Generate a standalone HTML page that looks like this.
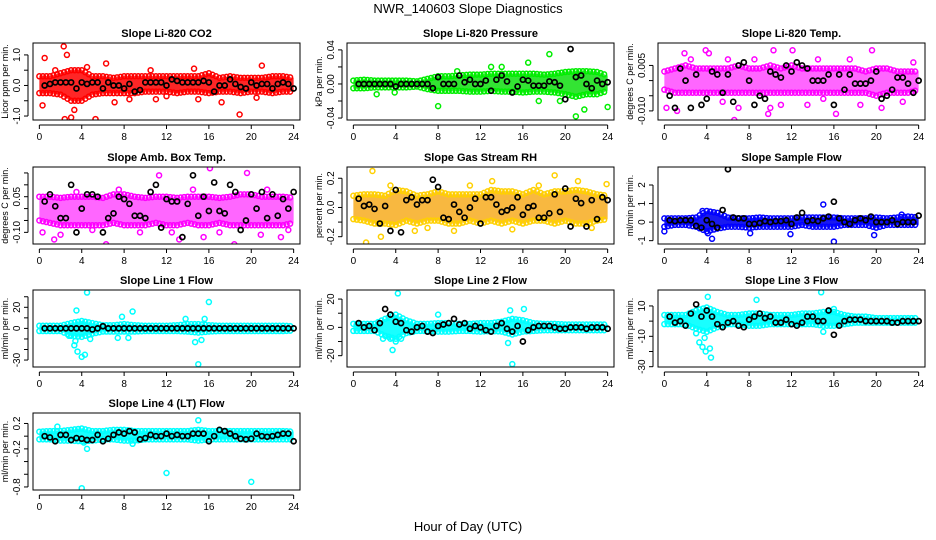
<!DOCTYPE html>
<html><head><meta charset="utf-8"><style>
body{margin:0;background:#fff;}
svg{display:block;font-family:"Liberation Sans",sans-serif;}
</style></head><body>
<svg id="chart" width="936" height="540" viewBox="0 0 936 540" xmlns="http://www.w3.org/2000/svg">
<rect x="0" y="0" width="936" height="540" fill="#fff"/>
<text x="468" y="13" text-anchor="middle" font-size="13">NWR_140603  Slope Diagnostics</text>
<text x="468" y="531" text-anchor="middle" font-size="13">Hour of Day (UTC)</text>
<g id="panels"></g>
</svg>
<script>
const bandHours = [0,1,2,3,4,5,6,7,8,9,10,11,12,13,14,15,16,17,18,19,20,21,22,23,24];
const blackHours = [0.5,1,1.5,2,2.5,3,3.5,4,4.5,5,5.5,6,6.5,7,7.5,8,8.5,9,9.5,10,10.5,11,11.5,12,12.5,13,13.5,14,14.5,15,15.5,16,16.5,17,17.5,18,18.5,19,19.5,20,20.5,21,21.5,22,22.5,23,23.5,24];
const xTicks = [0,4,8,12,16,20,24];

// CO2
const co2Hi = [0.3,0.3,0.4,0.5,0.5,0.3,0.3,0.25,0.3,0.3,0.3,0.3,0.3,0.3,0.3,0.3,0.4,0.25,0.3,0.25,0.25,0.25,0.3,0.3,0.25];
const co2Lo = [-0.25,-0.25,-0.3,-0.5,-0.5,-0.3,-0.25,-0.25,-0.25,-0.25,-0.2,-0.2,-0.2,-0.25,-0.2,-0.2,-0.25,-0.2,-0.2,-0.25,-0.2,-0.2,-0.25,-0.2,-0.2];
const co2OutX = [0.3,0.5,2.3,2.4,2.6,3.0,3.3,5.3,6.3,7.1,14.6,17.2,18.9,21.0,8.5,11,12,4.5,1.5,10.5,15,20.5];
const co2OutY = [-0.65,0.9,1.28,-1.1,1.0,-1.05,-0.8,-1.1,0.72,-0.55,0.55,-0.55,-0.95,0.65,-0.45,-0.45,-0.35,0.6,0.5,0.5,-0.45,-0.4];
const co2Black = [0.0,0.05,0.1,0.1,0.1,0.1,-0.1,0.1,0.05,0.1,0.1,-0.1,0.1,0.0,0.0,-0.1,0.05,-0.2,-0.15,0.1,0.1,0.1,0.1,0.0,0.2,0.15,0.1,0.1,0.1,0.1,0.15,0.1,-0.2,0.0,0.0,0.2,0.05,-0.05,-0.1,0.1,0.0,0.05,0.05,-0.1,0.05,0.1,0.05,-0.1];
// Pressure
const prHi = [0.004,0.005,0.004,0.004,0.004,0.004,0.003,0.006,0.009,0.009,0.01,0.011,0.011,0.012,0.012,0.012,0.012,0.012,0.011,0.012,0.014,0.015,0.015,0.014,0.01];
const prLo = [-0.005,-0.005,-0.004,-0.004,-0.004,-0.004,-0.003,-0.006,-0.008,-0.008,-0.008,-0.009,-0.009,-0.008,-0.009,-0.009,-0.01,-0.009,-0.009,-0.01,-0.012,-0.015,-0.012,-0.012,-0.008];
const prOutX = [2.2,8,18.5,19.5,21,24,16.5,13,9.8,21.8,3.9,14,17.5];
const prOutY = [-0.012,-0.026,0.035,-0.02,-0.038,-0.027,0.025,0.02,0.015,-0.03,-0.01,0.02,-0.02];
const prBlack = [0,0,0,0,0,0,0,-0.003,0,0,0,0,0,0,-0.005,0.008,0,0,0,0.01,0.002,0.005,0,0,0.004,-0.008,0.005,0.01,0.003,-0.01,-0.003,0.005,0.004,-0.002,-0.002,-0.002,0.003,0.002,-0.002,-0.018,0.041,0.008,0.01,0,-0.005,0.004,0,0.002];
// Li-820 Temp
const ltHi = [0.003,0.004,0.005,0.004,0.004,0.004,0.004,0.005,0.004,0.004,0.005,0.004,0.005,0.004,0.004,0.004,0.004,0.004,0.004,0.003,0.004,0.004,0.003,0.003,0.003];
const ltLo = [-0.003,-0.004,-0.004,-0.004,-0.004,-0.004,-0.004,-0.004,-0.004,-0.004,-0.004,-0.004,-0.004,-0.004,-0.004,-0.004,-0.004,-0.004,-0.004,-0.004,-0.005,-0.004,-0.004,-0.004,-0.003];
const ltOutX = [0.2,3.9,1.9,6.6,9.8,7.0,10.3,16.2,19.6,20.5,12.1,4.2,1.2,10.0,2.5,5.5,8.5,13.5,14.5,17.5,22.5,11,18.5,23.5,6,15];
const ltOutY = [-0.009,0.01,0.009,-0.013,-0.011,-0.009,0.01,-0.011,0.01,-0.009,0.01,0.009,-0.01,-0.009,0.007,-0.007,0.007,-0.008,0.007,0.007,-0.007,-0.008,-0.008,0.006,0.007,-0.006];
const ltBlack = [-0.005,-0.009,0.004,0.0,-0.009,0.002,-0.008,-0.006,0.003,0.002,-0.004,0.002,-0.007,0.005,0.006,0.0,-0.008,-0.005,-0.006,0.003,0.002,0.001,0.005,0.003,0.006,0.005,0.004,0.0,0.0,0.0,0.002,-0.008,0.002,-0.003,0.002,-0.001,-0.001,-0.001,0.0,0.003,-0.006,-0.005,-0.003,0.001,0.001,-0.001,-0.004,0.0];
// Amb box temp
const abHi = [0.05,0.05,0.045,0.05,0.05,0.05,0.045,0.06,0.06,0.05,0.045,0.05,0.05,0.045,0.05,0.05,0.05,0.045,0.05,0.06,0.06,0.05,0.05,0.05,0.045];
const abLo = [-0.05,-0.06,-0.07,-0.07,-0.07,-0.07,-0.07,-0.06,-0.07,-0.07,-0.07,-0.06,-0.07,-0.07,-0.06,-0.07,-0.07,-0.06,-0.07,-0.07,-0.07,-0.07,-0.07,-0.07,-0.06];
const abOutX = [0.3,1.4,6.3,11.3,13.2,16.1,18.4,19.6,20.9,15.5,22.8,2.0,3.5,5,7.5,9.5,10.5,12.5,14.5,17,21.5,23.5];
const abOutY = [-0.1,-0.13,-0.15,0.14,-0.13,0.17,-0.15,0.15,-0.11,-0.12,-0.12,-0.11,0.07,-0.09,0.08,-0.1,0.07,-0.1,0.08,-0.1,0.08,-0.09];
const abBlack = [0.03,0.06,0.01,-0.04,-0.04,0.1,-0.1,0.0,0.06,0.06,0.05,-0.1,-0.04,-0.02,0.05,0.04,0.02,-0.03,-0.03,-0.04,0.07,0.1,-0.08,0.04,0.03,0.03,-0.12,0.02,0.14,-0.03,0.05,-0.01,0.11,-0.01,-0.02,0.1,0.07,-0.09,-0.05,0.06,0.0,0.07,-0.04,0.06,-0.03,0.04,0.0,0.07];
// Gas RH
const rhHi = [0.08,0.09,0.09,0.08,0.12,0.11,0.08,0.09,0.11,0.09,0.09,0.09,0.09,0.12,0.11,0.11,0.09,0.12,0.09,0.11,0.11,0.12,0.11,0.09,0.08];
const rhLo = [-0.08,-0.09,-0.11,-0.11,-0.12,-0.09,-0.11,-0.09,-0.09,-0.11,-0.11,-0.09,-0.11,-0.09,-0.11,-0.09,-0.11,-0.09,-0.09,-0.11,-0.09,-0.11,-0.11,-0.09,-0.08];
const rhOutX = [1.8,1.2,2.6,5.8,13.1,19.0,21.2,23.9,9.5,3.5,7,11,15,17.5,22.5];
const rhOutY = [0.25,-0.24,-0.2,-0.16,0.18,0.22,0.18,0.16,-0.16,0.15,-0.14,0.15,-0.15,0.15,-0.14];
const rhBlack = [0.06,0.01,0.02,-0.01,-0.11,0.01,-0.16,0.12,-0.17,0.05,0.07,0.02,0.05,0.05,0.19,0.14,-0.07,-0.08,0.02,-0.03,-0.07,0.0,0.06,-0.11,0.07,0.07,0.02,-0.03,-0.02,0.0,0.07,-0.05,0.0,0.01,-0.07,-0.07,-0.04,0.09,-0.03,0.13,-0.13,0.06,0.03,-0.13,0.05,-0.08,0.07,0.05];
// Sample flow
const sfHi = [0.2,0.2,0.2,0.25,0.6,0.5,0.25,0.2,0.2,0.25,0.2,0.2,0.2,0.25,0.25,0.25,0.25,0.2,0.2,0.2,0.25,0.2,0.25,0.3,0.25];
const sfLo = [-0.25,-0.15,-0.15,-0.25,-0.5,-0.35,-0.25,-0.25,-0.3,-0.25,-0.25,-0.25,-0.25,-0.15,-0.25,-0.25,-0.25,-0.15,-0.15,-0.15,-0.3,-0.15,-0.15,-0.15,-0.15];
const sfOutX = [0,4.5,4.1,8.1,11.9,15.0,16,19.8,22.4,3.6];
const sfOutY = [-0.5,-0.9,-0.6,-0.6,-0.65,0.95,-1.05,-0.7,0.4,0.6];
const sfBlack = [0.1,0.05,0.1,0.1,0.1,-0.2,-0.3,0.1,-0.1,-0.3,0.65,2.85,0.25,0.2,0.2,-0.1,-0.1,-0.05,0.05,0.0,0.05,0.05,0.1,-0.1,0.25,0.5,0.05,0.1,0.05,0.2,0.3,1.1,0.2,0.0,-0.1,0.1,0.2,0.1,0.3,0.0,0.0,0.0,0.1,-0.1,0.0,0.0,0.0,0.35];
// Line 1 flow
const l1Hi = [2.5,2.5,2.5,5,7,5,3,3,4,3,2.5,2.5,2.5,3,4,4,3,2.5,2.5,2.5,2.5,2.5,2.5,2.5,2];
const l1Lo = [-2.5,-2.5,-2.5,-7,-8,-5,-3,-3,-3,-3,-2.5,-2.5,-2.5,-2.5,-3,-4,-3,-2.5,-2.5,-2.5,-2.5,-2.5,-2.5,-2.5,-2];
const l1OutX = [3.5,3.3,3.6,4.3,4.5,4.8,2.8,7.4,7.8,8.4,8.8,13.8,14.7,15.3,15.6,16.0,15.0,3.4,4.0];
const l1OutY = [17,-16,-22,-25,34,-10,-7,-9,11,-9,16,9,-13,-11,9,25,-34,-12,-27];
const l1Black = [0,0,0,0,0,0,0,0,0,-1,0,2,0,0,0,0,0,0,0,0,0,0,0,0,0,0,0,0,0,0,0,0,0,0,0,0,0,0,0,0,0,0,0,0,0,0,0,0];
// Line 2 flow
const l2Hi = [2.5,2.5,2.5,6,9,5,2.5,2.5,3,3,2.5,2.5,3,3,4,6,5,3,2.5,2.5,2,2,2,2,2];
const l2Lo = [-2.5,-2.5,-2.5,-6,-8,-4,-2.5,-2.5,-3,-3,-2.5,-2.5,-3,-2.5,-3,-5,-3,-2.5,-2,-2,-2,-2,-2,-2,-2];
const l2OutX = [3.5,3.7,4.2,4.5,2.8,4.0,14.8,15.0,16.1,14.6,8.0];
const l2OutY = [-8,-16,24,-8,-8,-10,12,-26,13,-11,9];
const l2Black = [3,0,1,-2,3,13,9,4,3,-2,-3,0,1,-3,-4,1,2,3,6,2,3,-1,1,0,-2,-3,1,3,-1,-3,1,-10,-2,0,1,1,1,0,-1,-1,0,0,0,-1,0,0,0,-1];
// Line 3 flow
const l3Hi = [4,4,4,7,9,6,4,4,5,5,4,4,4,5,5,6,6,4,3,3,2,2,2,2,2];
const l3Lo = [-2,-2,-2,-5,-7,-4,-2,-2,-3,-3,-2,-2,-2,-2,-2,-3,-3,-2,-1,-1,-1,-1,-1,-1,-1];
const l3OutX = [3.0,3.3,3.6,3.9,4.3,4.4,4.1,8.7,14.8,15.0,16.0,3.8];
const l3OutY = [-8,-14,-17,-20,-18,-24,16,14,19,-7,8,-11];
const l3Black = [3,-1,0,-3,5,11,3,7,3,-2,-4,-1,0,-3,-4,1,3,5,2,3,-1,-1,1,-2,-3,-1,3,3,0,0,7,-9,-3,0,1,1,1,0,0,0,0,0,-1,-1,0,0,0,0];
// Line 4 (LT) flow
const l4Hi = [0.07,0.08,0.08,0.1,0.12,0.08,0.08,0.1,0.1,0.08,0.08,0.08,0.08,0.08,0.08,0.1,0.08,0.08,0.08,0.08,0.08,0.08,0.08,0.08,0.07];
const l4Lo = [-0.05,-0.05,-0.07,-0.07,-0.08,-0.07,-0.05,-0.05,-0.07,-0.07,-0.05,-0.05,-0.05,-0.05,-0.05,-0.07,-0.05,-0.05,-0.05,-0.05,-0.05,-0.05,-0.05,-0.05,-0.05];
const l4OutX = [4.0,12.0,20.0,15.0,4.5,8.8,1.7,4.2];
const l4OutY = [-0.82,-0.58,-0.72,0.25,-0.2,-0.12,0.15,-0.1];
const l4Black = [0.0,-0.02,-0.08,0.02,0.02,-0.06,-0.03,-0.04,-0.06,-0.06,0.02,-0.08,-0.04,0.02,0.06,0.04,0.08,0.06,-0.05,-0.03,0.02,0.0,0.0,0.04,0.0,0.02,0.0,0.0,0.04,0.04,0.04,-0.08,0.0,0.1,0.08,0.04,0.0,-0.04,-0.05,-0.04,0.04,0.0,-0.01,0.0,0.02,0.04,0.04,-0.08];

const panels = [
 {name:'co2',title:'Slope Li-820 CO2',ylab:'Licor ppm per min.',col:'#ff0000',fill:'#ff0000',op:0.85,x0:33,y0:43,ymin:-1.13,ymax:1.39,ticks:[-1,-0.5,0,0.5,1],labs:['-1.0','','0.0','','1.0'],hi:co2Hi,lo:co2Lo,ox:co2OutX,oy:co2OutY,bk:co2Black},
 {name:'pressure',title:'Slope Li-820 Pressure',ylab:'kPa per min.',col:'#00ee00',fill:'#00dd00',op:0.8,x0:347,y0:43,ymin:-0.0423,ymax:0.0481,ticks:[-0.04,-0.02,0,0.02,0.04],labs:['-0.04','','0.00','','0.04'],hi:prHi,lo:prLo,ox:prOutX,oy:prOutY,bk:prBlack},
 {name:'li820-temp',title:'Slope Li-820 Temp.',ylab:'degrees C per min.',col:'#ff00ff',fill:'#ff00ff',op:0.6,x0:658,y0:43,ymin:-0.013,ymax:0.0124,ticks:[-0.01,-0.005,0,0.005],labs:['-0.010','','','0.005'],hi:ltHi,lo:ltLo,ox:ltOutX,oy:ltOutY,bk:ltBlack},
 {name:'amb-box-temp',title:'Slope Amb. Box Temp.',ylab:'degrees C per min.',col:'#ff00ff',fill:'#ff00ff',op:0.6,x0:33,y0:167,ymin:-0.149,ymax:0.175,ticks:[-0.1,-0.05,0,0.05,0.1,0.15],labs:['-0.10','','','0.05','',''],hi:abHi,lo:abLo,ox:abOutX,oy:abOutY,bk:abBlack},
 {name:'gas-stream-rh',title:'Slope Gas Stream RH',ylab:'percent per min.',col:'#ffd000',fill:'#f5a000',op:0.75,x0:347,y0:167,ymin:-0.25,ymax:0.277,ticks:[-0.2,-0.1,0,0.1,0.2],labs:['-0.2','','0.0','','0.2'],hi:rhHi,lo:rhLo,ox:rhOutX,oy:rhOutY,bk:rhBlack},
 {name:'sample-flow',title:'Slope Sample Flow',ylab:'ml/min per min.',col:'#0000ff',fill:'#0000ee',op:0.9,x0:658,y0:167,ymin:-1.18,ymax:2.97,ticks:[-1,0,1,2],labs:['-1','0','1','2'],hi:sfHi,lo:sfLo,ox:sfOutX,oy:sfOutY,bk:sfBlack},
 {name:'line1-flow',title:'Slope Line 1 Flow',ylab:'ml/min per min.',col:'#00ffff',fill:'#00ffff',op:0.9,x0:33,y0:290,ymin:-36.6,ymax:36.4,ticks:[-30,-20,-10,0,10,20,30],labs:['-30','','','0','','20',''],hi:l1Hi,lo:l1Lo,ox:l1OutX,oy:l1OutY,bk:l1Black},
 {name:'line2-flow',title:'Slope Line 2 Flow',ylab:'ml/min per min.',col:'#00ffff',fill:'#00ffff',op:0.9,x0:347,y0:290,ymin:-28,ymax:26.4,ticks:[-20,-10,0,10,20],labs:['-20','','0','','20'],hi:l2Hi,lo:l2Lo,ox:l2OutX,oy:l2OutY,bk:l2Black},
 {name:'line3-flow',title:'Slope Line 3 Flow',ylab:'ml/min per min.',col:'#00ffff',fill:'#00ffff',op:0.9,x0:658,y0:290,ymin:-30.2,ymax:20.5,ticks:[-30,-20,-10,0,10],labs:['-30','','-10','','10'],hi:l3Hi,lo:l3Lo,ox:l3OutX,oy:l3OutY,bk:l3Black},
 {name:'line4-flow',title:'Slope Line 4 (LT) Flow',ylab:'ml/min per min.',col:'#00ffff',fill:'#00ffff',op:0.9,x0:33,y0:413,ymin:-0.848,ymax:0.365,ticks:[-0.8,-0.6,-0.4,-0.2,0,0.2],labs:['-0.8','','','-0.2','','0.2'],hi:l4Hi,lo:l4Lo,ox:l4OutX,oy:l4OutY,bk:l4Black}
];

const NS='http://www.w3.org/2000/svg';
const root=document.getElementById('panels');
function mk(tag,attrs,parent){const e=document.createElementNS(NS,tag);for(const k in attrs)e.setAttribute(k,attrs[k]);parent.appendChild(e);return e;}
const W=267,H=77;
panels.forEach(p=>{
  const g=mk('g',{},root);
  
  
  const xs=h=>p.x0+(h+0.6)/25.2*W;
  const ys=v=>p.y0+H-(v-p.ymin)/(p.ymax-p.ymin)*H;
  const clip='c-'+p.name;
  const cp=mk('clipPath',{id:clip},g);mk('rect',{x:p.x0,y:p.y0,width:W,height:H},cp);
  const dg=mk('g',{'clip-path':'url(#'+clip+')'},g);
  let pts=bandHours.map((h,i)=>xs(h)+','+ys(p.hi[i]));
  pts=pts.concat(bandHours.slice().reverse().map((h,j)=>{const i=bandHours.length-1-j;return xs(h)+','+ys(p.lo[i]);}));
  const band=mk('polygon',{points:pts.join(' '),fill:p.fill,'fill-opacity':p.op,stroke:'none'},dg);
  
  
  for(let i=0;i<bandHours.length-1;i++){
    for(let s=0;s<3;s++){
      const f=s/3,h=bandHours[i]+f;
      const hv=p.hi[i]+(p.hi[i+1]-p.hi[i])*f, lv=p.lo[i]+(p.lo[i+1]-p.lo[i])*f;
      [hv,lv].forEach(v=>{const c=mk('circle',{cx:xs(h),cy:ys(v),r:2.5,fill:'none',stroke:p.col,'stroke-width':1.5},dg);
        
        });
    }
  }
  p.ox.forEach((h,i)=>{const c=mk('circle',{cx:xs(h),cy:ys(p.oy[i]),r:2.5,fill:'none',stroke:p.col,'stroke-width':1.5},dg);
    
    });
  blackHours.forEach((h,i)=>{const c=mk('circle',{cx:xs(h),cy:ys(p.bk[i]),r:2.5,fill:'none',stroke:'#000','stroke-width':1.7},dg);
    
    });
  const box=mk('rect',{x:p.x0,y:p.y0,width:W,height:H,fill:'none',stroke:'#000','stroke-width':1},g);
  
  
  const t=mk('text',{x:p.x0+W/2,y:p.y0-6,'text-anchor':'middle','font-size':11,'font-weight':'bold'},g);t.textContent=p.title;
  
  
  const ax=mk('g',{},g);
  
  
  const ay0=p.y0+H+5;
  mk('line',{x1:xs(0),x2:xs(24),y1:ay0,y2:ay0,stroke:'#000'},ax);
  xTicks.forEach(v=>{mk('line',{x1:xs(v),x2:xs(v),y1:ay0,y2:ay0+4,stroke:'#000'},ax);
    const tl=mk('text',{x:xs(v),y:ay0+15,'text-anchor':'middle','font-size':10},ax);tl.textContent=v;});
  const yg=mk('g',{},g);
  
  
  const axx=p.x0-5;
  mk('line',{x1:axx,x2:axx,y1:ys(p.ticks[0]),y2:ys(p.ticks[p.ticks.length-1]),stroke:'#000'},yg);
  p.ticks.forEach((v,i)=>{mk('line',{x1:axx,x2:axx-4,y1:ys(v),y2:ys(v),stroke:'#000'},yg);
    if(p.labs[i]){const tl=mk('text',{x:axx-8,y:ys(v),'text-anchor':'middle','font-size':10,transform:'rotate(-90 '+(axx-8)+' '+ys(v)+')'},yg);tl.textContent=p.labs[i];}});
  const yl=mk('text',{x:p.x0-25,y:p.y0+H/2,'text-anchor':'middle','font-size':9,transform:'rotate(-90 '+(p.x0-25)+' '+(p.y0+H/2)+')'},g);yl.textContent=p.ylab;
  
  
});
</script>
</body></html>
